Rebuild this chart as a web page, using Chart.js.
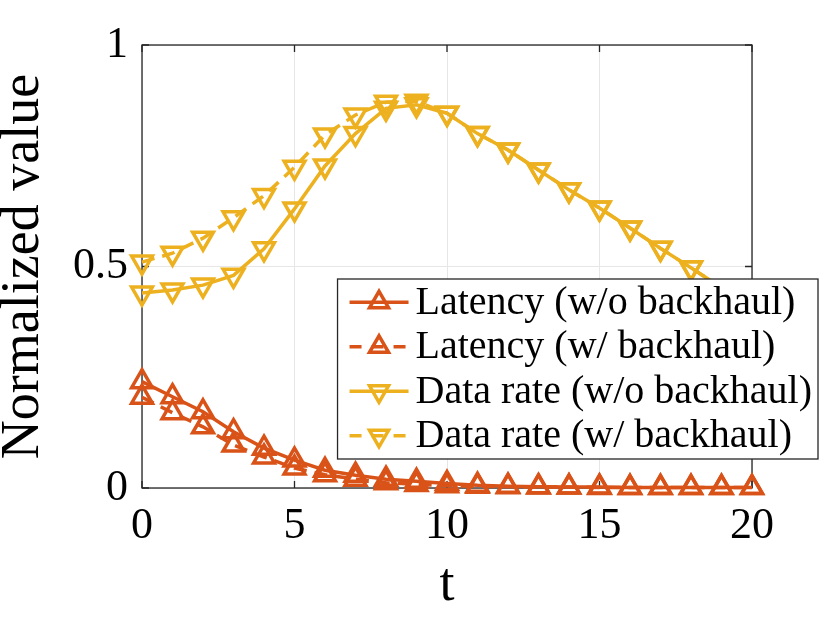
<!DOCTYPE html>
<html>
<head>
<meta charset="utf-8">
<script src="https://cdn.jsdelivr.net/npm/chart.js@4"></script>
<style>
  html, body { margin: 0; padding: 0; background: #fff; }
  #wrap { width: 830px; height: 623px; }
</style>
</head>
<body>
<div id="wrap"><canvas id="chart"></canvas></div>
<script>
// x values (t)
const tValues = [0, 1, 2, 3, 4, 5, 6, 7, 8, 9, 10, 11, 12, 13, 14, 15, 16, 17, 18, 19, 20];

// series
const latencyNoBackhaul = [0.240, 0.206, 0.172, 0.127, 0.090, 0.063, 0.040, 0.029, 0.020, 0.015, 0.010,
                           0.006, 0.004, 0.003, 0.002, 0.002, 0.001, 0.001, 0.001, 0.001, 0.001];
const latencyBackhaul   = [0.205, 0.170, 0.138, 0.097, 0.070, 0.045, 0.030, 0.020, 0.012, 0.008, 0.005,
                           0.004, 0.003, 0.002, 0.002, 0.001, 0.001, 0.001, 0.001, 0.001, 0.001];
const rateNoBackhaul    = [0.440, 0.447, 0.458, 0.480, 0.540, 0.630, 0.727, 0.800, 0.857, 0.865, 0.846,
                           0.800, 0.763, 0.718, 0.673, 0.632, 0.587, 0.541, 0.497, 0.452, 0.407];
const rateBackhaul      = [0.510, 0.530, 0.564, 0.610, 0.660, 0.724, 0.797, 0.842, 0.871, 0.873, 0.846,
                           0.800, 0.763, 0.718, 0.673, 0.632, 0.587, 0.541, 0.497, 0.452, 0.407];

const seriesLabels = [
    'Latency (w/o backhaul)',
    'Latency (w/ backhaul)',
    'Data rate (w/o backhaul)',
    'Data rate (w/ backhaul)'
];

const xTicks = [0, 5, 10, 15, 20];
const yTicks = [0, 0.5, 1];

const ORANGE = '#D95319';
const YELLOW = '#EDB120';
const FONT = '"Liberation Serif", "Times New Roman", serif';

function toPoints(values) {
    return tValues.map((t, i) => ({ x: t, y: values[i] }));
}

function makeDataset(label, values, color, dashed, down) {
    return {
        label: label,
        data: toPoints(values),
        borderColor: color,
        backgroundColor: 'rgba(0,0,0,0)',
        borderWidth: 3.5,
        borderDash: dashed ? [13, 8] : [],
        pointStyle: 'triangle',
        pointRotation: down ? 180 : 0,
        pointRadius: 12,
        pointBorderWidth: 3.5,
        pointBorderColor: color,
        pointBackgroundColor: 'rgba(0,0,0,0)',
        tension: 0,
        clip: false
    };
}

// box round the axes, with small inward ticks like the original
const axesBox = {
    id: 'axesBox',
    beforeDatasetsDraw(chart) {
        const { ctx, chartArea: a, scales } = chart;
        ctx.save();
        ctx.strokeStyle = '#262626';
        ctx.lineWidth = 1.3;
        ctx.strokeRect(a.left, a.top, a.right - a.left, a.bottom - a.top);
        const len = 7;
        ctx.beginPath();
        xTicks.forEach(v => {
            const px = scales.x.getPixelForValue(v);
            ctx.moveTo(px, a.bottom); ctx.lineTo(px, a.bottom - len);
            ctx.moveTo(px, a.top); ctx.lineTo(px, a.top + len);
        });
        yTicks.forEach(v => {
            const py = scales.y.getPixelForValue(v);
            ctx.moveTo(a.left, py); ctx.lineTo(a.left + len, py);
            ctx.moveTo(a.right, py); ctx.lineTo(a.right - len, py);
        });
        ctx.stroke();
        ctx.restore();
    }
};

// legend box that sits partly outside the plot, as in the picture
const boxLegend = {
    id: 'boxLegend',
    afterDraw(chart, args, opts) {
        const { ctx } = chart;
        const sets = chart.data.datasets;
        ctx.save();
        ctx.font = opts.fontSize + 'px ' + FONT;
        const textW = Math.max(...sets.map(d => ctx.measureText(d.label).width));
        const w = opts.padLeft + opts.sampleW + opts.gap + textW + opts.padRight;
        const h = sets.length * opts.rowH + 2;
        const x0 = opts.right - w;
        const y0 = opts.top;
        ctx.fillStyle = '#fff';
        ctx.fillRect(x0, y0, w, h);
        ctx.strokeStyle = '#262626';
        ctx.lineWidth = 1.3;
        ctx.strokeRect(x0, y0, w, h);
        sets.forEach((d, i) => {
            const cy = y0 + 1 + opts.rowH * (i + 0.5);
            const sx = x0 + opts.padLeft;
            ctx.strokeStyle = d.borderColor;
            ctx.lineWidth = 3.5;
            ctx.setLineDash(d.borderDash.length ? [12, 10] : []);
            ctx.beginPath();
            ctx.moveTo(sx, cy);
            ctx.lineTo(sx + opts.sampleW, cy);
            ctx.stroke();
            ctx.setLineDash([]);
            ctx.fillStyle = 'rgba(0,0,0,0)';
            Chart.helpers.drawPoint(ctx, {
                pointStyle: 'triangle',
                rotation: d.pointRotation,
                radius: 11,
                borderWidth: 3.5
            }, sx + opts.sampleW / 2, cy);
            ctx.fillStyle = '#000';
            ctx.textBaseline = 'middle';
            ctx.textAlign = 'left';
            ctx.fillText(d.label, sx + opts.sampleW + opts.gap, cy + 1);
        });
        ctx.restore();
    }
};

const chart = new Chart(document.getElementById('chart'), {
    type: 'line',
    data: {
        datasets: [
            makeDataset(seriesLabels[0], latencyNoBackhaul, ORANGE, false, false),
            makeDataset(seriesLabels[1], latencyBackhaul, ORANGE, true, false),
            makeDataset(seriesLabels[2], rateNoBackhaul, YELLOW, false, true),
            makeDataset(seriesLabels[3], rateBackhaul, YELLOW, true, true)
        ]
    },
    options: {
        responsive: true,
        maintainAspectRatio: false,
        animation: false,
        layout: { padding: { top: 45, right: 78, left: 0, bottom: 0 } },
        plugins: {
            legend: { display: false },
            tooltip: { enabled: false },
            boxLegend: {
                right: 818, top: 279, rowH: 44.5, fontSize: 40,
                padLeft: 12, sampleW: 59, gap: 7, padRight: 6
            }
        },
        scales: {
            x: {
                type: 'linear',
                min: 0, max: 20,
                afterBuildTicks: s => { s.ticks = xTicks.map(v => ({ value: v })); },
                afterFit: s => { s.height = 135; },
                grid: { color: '#e6e6e6', lineWidth: 1, drawTicks: false },
                border: { display: false },
                ticks: { color: '#000', padding: 12, font: { family: FONT, size: 44 }, maxRotation: 0 },
                title: {
                    display: true, text: 't', color: '#000',
                    font: { family: FONT, size: 54, lineHeight: 1 },
                    padding: { top: 0, bottom: 10 }
                }
            },
            y: {
                type: 'linear',
                min: 0, max: 1,
                afterBuildTicks: s => { s.ticks = yTicks.map(v => ({ value: v })); },
                afterFit: s => { s.width = 142; },
                grid: { color: '#e6e6e6', lineWidth: 1, drawTicks: false },
                border: { display: false },
                ticks: {
                    color: '#000', padding: 14, font: { family: FONT, size: 44 },
                    callback: v => String(v)
                },
                title: {
                    display: true, text: 'Normalized value', color: '#000',
                    font: { family: FONT, size: 54, lineHeight: 1 },
                    padding: { top: -3, bottom: 0 }
                }
            }
        }
    },
    plugins: [axesBox, boxLegend]
});
</script>
</body>
</html>
